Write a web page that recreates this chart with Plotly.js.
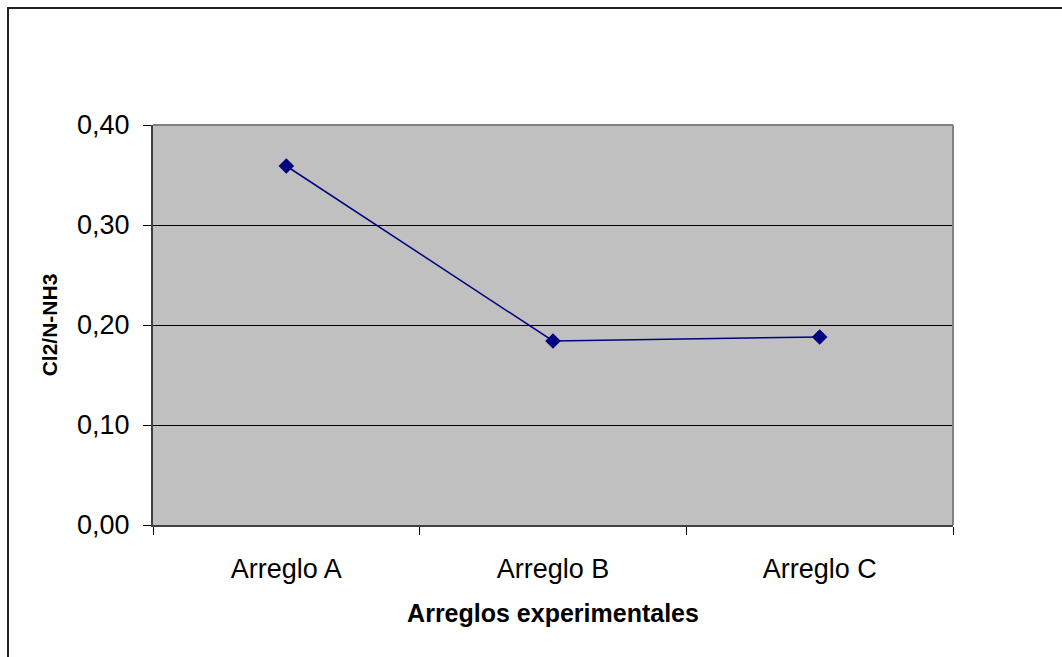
<!DOCTYPE html>
<html>
<head>
<meta charset="utf-8">
<script src="https://cdn.plot.ly/plotly-3.0.1.min.js"></script>
<style>
  html, body { margin: 0; padding: 0; background: #fff; }
  #wrap { position: relative; width: 1062px; height: 657px; overflow: hidden; }
  #chart { position: absolute; left: 0; top: 0; width: 1062px; height: 657px; }
  #frame { position: absolute; left: 7px; top: 7px; width: 1100px; height: 700px;
           border-left: 2px solid #222; border-top: 2px solid #222; pointer-events: none; }
</style>
</head>
<body>
<div id="wrap">
  <div id="chart"></div>
  <div id="frame"></div>
</div>
<script>
const categories = ["Arreglo A", "Arreglo B", "Arreglo C"];
const values = [0.359, 0.184, 0.188];
const yTicks = [0, 0.1, 0.2, 0.3, 0.4];
const yTitle = "Cl2/N-NH3";
const xTitle = "Arreglos experimentales";

const font = "Liberation Sans, Arial, sans-serif";

const trace = {
  x: categories,
  y: values,
  type: "scatter",
  mode: "lines+markers",
  line: { color: "#000080", width: 1.5 },
  marker: { symbol: "diamond", size: 12, color: "#000080" },
  hoverinfo: "none"
};

const layout = {
  width: 1062,
  height: 657,
  margin: { l: 153, r: 109, t: 125, b: 132, pad: 0 },
  paper_bgcolor: "#ffffff",
  plot_bgcolor: "#c0c0c0",
  separators: ",.",
  showlegend: false,
  font: { family: font, color: "#000" },
  xaxis: {
    type: "category",
    range: [-0.5, 2.5],
    showgrid: false,
    zeroline: false,
    showline: true,
    linecolor: "#404040",
    linewidth: 2,
    ticks: "outside",
    tickson: "boundaries",
    ticklen: 8,
    tickcolor: "#000",
    tickwidth: 1,
    tickfont: { family: font, size: 27, color: "#000" },
    ticklabelstandoff: 19,
    title: { text: xTitle, font: { family: font, size: 25, color: "#000", weight: "bold" }, standoff: 21 }
  },
  yaxis: {
    range: [0, 0.4],
    tickvals: yTicks,
    tickformat: ".2f",
    showgrid: true,
    gridcolor: "#000",
    gridwidth: 1,
    zeroline: false,
    showline: true,
    linecolor: "#404040",
    linewidth: 2,
    ticks: "outside",
    ticklen: 8,
    tickcolor: "#000",
    tickwidth: 1,
    tickfont: { family: font, size: 27, color: "#000" },
    ticklabelstandoff: 8,
    title: { text: yTitle, font: { family: font, size: 21, color: "#000", weight: "bold" }, standoff: 14 }
  },
  shapes: [
    { type: "line", xref: "paper", yref: "paper", x0: 0, x1: 1, y0: 1, y1: 1,
      line: { color: "#808080", width: 2 }, layer: "above" },
    { type: "line", xref: "paper", yref: "paper", x0: 1, x1: 1, y0: 0, y1: 1,
      line: { color: "#808080", width: 2 }, layer: "above" }
  ]
};

Plotly.newPlot("chart", [trace], layout, { staticPlot: true, displayModeBar: false });
</script>
</body>
</html>
